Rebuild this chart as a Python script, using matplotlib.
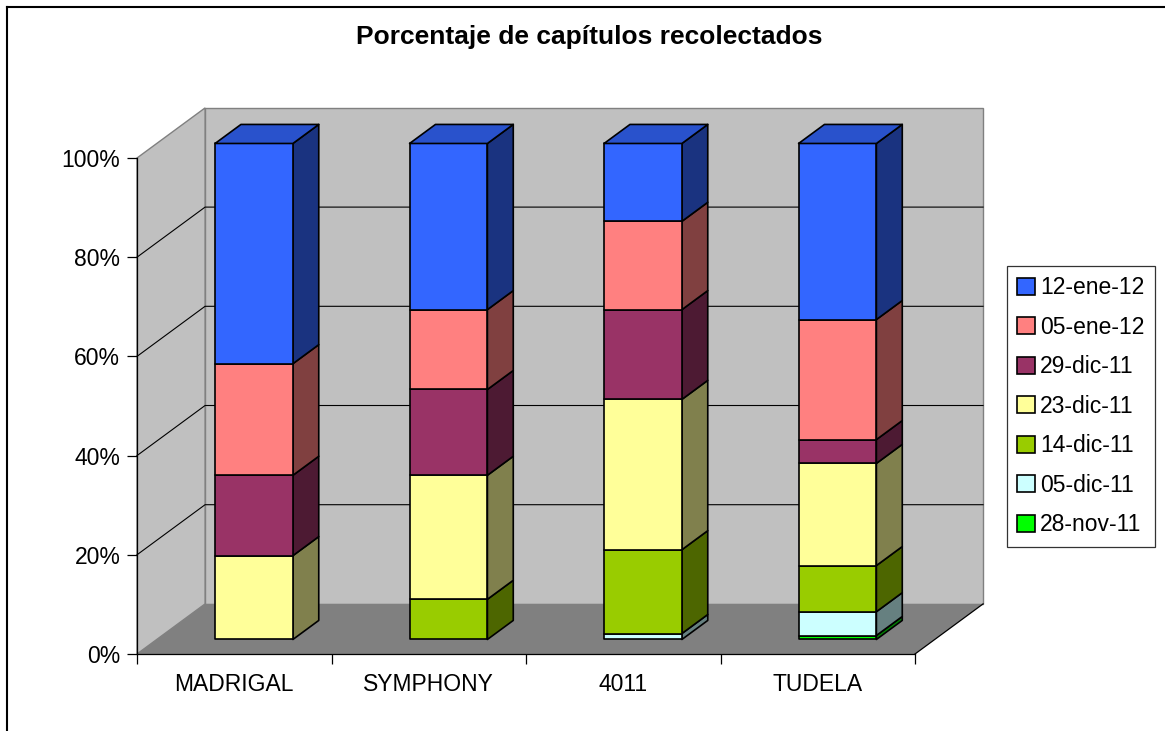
import numpy as np
import matplotlib.pyplot as plt
from matplotlib.patches import Polygon, Patch
from matplotlib.lines import Line2D
from matplotlib.colors import to_rgb

plt.rcParams['font.family'] = ['Liberation Sans', 'DejaVu Sans']

# data (percent of total per variety)
categories = ['MADRIGAL', 'SYMPHONY', '4011', 'TUDELA']
series_names = ['28-nov-11', '05-dic-11', '14-dic-11', '23-dic-11',
                '29-dic-11', '05-ene-12', '12-ene-12']
nov28 = [0.0, 0.0, 0.0, 0.8]
dic05 = [0.0, 0.0, 1.2, 4.8]
dic14 = [0.0, 8.1, 16.9, 9.3]
dic23 = [16.9, 25.0, 30.3, 20.6]
dic29 = [16.2, 17.3, 18.1, 4.8]
ene05 = [22.5, 16.1, 17.8, 24.2]
ene12 = [44.4, 33.5, 15.7, 35.5]
yticks = [0, 20, 40, 60, 80, 100]

colors = ['#00FF00', '#CCFFFF', '#99CC00', '#FFFF99',
          '#993366', '#FF8080', '#3366FF']

values = np.array([nov28, dic05, dic14, dic23, dic29, ene05, ene12])
values = values / values.sum(axis=0) * 100

# oblique "3D" projection: depth d in [0, 1]
DX, DY = 0.35, 10.1
D0, D1 = 0.29, 0.67
W = 0.4


def proj(x, y, d):
    return (x + d * DX, y + d * DY)


fig = plt.figure(figsize=(11.65, 7.31), dpi=100)
ax = fig.add_axes([0, 0, 1, 1])
sx, sy = 194.5, 4.96
x0 = -137 / sx
y0 = -77 / sy
ax.set_xlim(x0, x0 + 1165 / sx)
ax.set_ylim(y0, y0 + 731 / sy)
ax.patch.set_visible(False)

n = len(categories)
wall = '#C0C0C0'
# back wall, left wall, floor
ax.add_patch(Polygon([proj(0, 0, 1), proj(n, 0, 1), proj(n, 100, 1), proj(0, 100, 1)],
                     closed=True, facecolor=wall, edgecolor='#808080', lw=1, zorder=0))
ax.add_patch(Polygon([proj(0, 0, 0), proj(0, 0, 1), proj(0, 100, 1), proj(0, 100, 0)],
                     closed=True, facecolor=wall, edgecolor='#808080', lw=1, zorder=0))
ax.add_patch(Polygon([proj(0, 0, 0), proj(n, 0, 0), proj(n, 0, 1), proj(0, 0, 1)],
                     closed=True, facecolor='#808080', edgecolor='none', zorder=0.5))
ax.plot(*zip(proj(n, 0, 0), proj(n, 0, 1)), color='black', lw=0.9, zorder=0.6)

# gridlines on walls
for v in yticks[1:-1]:
    pts = [proj(0, v, 0), proj(0, v, 1), proj(n, v, 1)]
    ax.plot(*zip(*pts), color='black', lw=0.8, zorder=0.7)

# stacked bars
for i in range(n):
    xa, xb = i + 0.5 - W / 2, i + 0.5 + W / 2
    bottom = 0.0
    last = None
    for j in range(len(series_names)):
        h = values[j, i]
        if h <= 0:
            continue
        top = bottom + h
        c = np.array(to_rgb(colors[j]))
        side = [proj(xb, bottom, D0), proj(xb, bottom, D1), proj(xb, top, D1), proj(xb, top, D0)]
        front = [proj(xa, bottom, D0), proj(xb, bottom, D0), proj(xb, top, D0), proj(xa, top, D0)]
        ax.add_patch(Polygon(side, closed=True, facecolor=c * 0.5, edgecolor='black',
                             lw=1.2, joinstyle='round', zorder=3))
        ax.add_patch(Polygon(front, closed=True, facecolor=c, edgecolor='black',
                             lw=1.2, joinstyle='round', zorder=3))
        bottom = top
        last = c
    topface = [proj(xa, 100, D0), proj(xb, 100, D0), proj(xb, 100, D1), proj(xa, 100, D1)]
    ax.add_patch(Polygon(topface, closed=True, facecolor=last * 0.8, edgecolor='black',
                         lw=1.2, joinstyle='round', zorder=3))

# axes
for s in ['top', 'right']:
    ax.spines[s].set_visible(False)
ax.spines['left'].set_position(('data', 0))
ax.spines['left'].set_bounds(0, 100)
ax.spines['bottom'].set_position(('data', 0))
ax.spines['bottom'].set_bounds(0, n)
for s in ['left', 'bottom']:
    ax.spines[s].set_linewidth(0.9)
ax.set_yticks(yticks)
ax.set_yticklabels([f'{v}%' for v in yticks])
ax.set_xticks(range(n + 1))
ax.set_xticklabels([])
ax.set_xticks(np.arange(n) + 0.5, minor=True)
ax.set_xticklabels(categories, minor=True)
ax.tick_params(axis='y', direction='out', length=7, width=0.9, pad=5, labelsize=16.5)
ax.tick_params(axis='x', which='major', direction='out', length=7, width=0.9)
ax.tick_params(axis='x', which='minor', length=0, pad=14, labelsize=16.5)

# title
fig.text(589 / 1165, 1 - 37 / 731, 'Porcentaje de capítulos recolectados',
         ha='center', va='center', fontsize=19, fontweight='bold')

# legend (top series first)
handles = [Patch(facecolor=colors[j], edgecolor='black', lw=1.2)
           for j in range(len(series_names) - 1, -1, -1)]
labels = series_names[::-1]
leg = fig.legend(handles, labels, loc='upper left',
                 bbox_to_anchor=(1007 / 1165, 1 - 266 / 731),
                 frameon=True, fancybox=False, fontsize=16.5,
                 handlelength=0.75, handleheight=0.75, handletextpad=0.25,
                 labelspacing=0.72, borderpad=0.45, borderaxespad=0)
leg.get_frame().set_edgecolor('black')
leg.get_frame().set_linewidth(0.9)

# chart border (top and left edges visible)
fig.add_artist(Line2D([7 / 1165, 1], [1 - 7 / 731, 1 - 7 / 731],
                      transform=fig.transFigure, color='black', lw=1.5))
fig.add_artist(Line2D([7 / 1165, 7 / 1165], [0, 1 - 7 / 731],
                      transform=fig.transFigure, color='black', lw=1.5))

fig.savefig('out.png', dpi=100)
